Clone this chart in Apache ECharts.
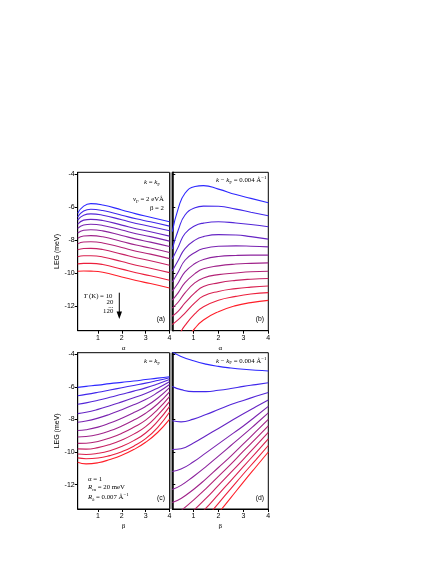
<!DOCTYPE html>
<html><head><meta charset="utf-8">
<script src="https://cdn.jsdelivr.net/npm/echarts@6/dist/echarts.min.js"></script>
<style>html,body{margin:0;padding:0;background:#fff}#c{width:447px;height:578px}</style>
</head><body><div id="c"></div>
<script>
// ---------- data ----------
const temperatures = [10, 20, 30, 40, 50, 60, 70, 80, 90, 100, 110, 120];
const xTicks = [1, 2, 3, 4];
const yTicks = [-4, -6, -8, -10, -12];

// panel (a): LEG vs alpha at k = kF
const alphaA = [0.15, 0.4, 0.7, 1.2, 2.0, 2.6, 3.2, 4.0];
const legA = [
  [-6.38, -5.95, -5.80, -5.88, -6.18, -6.42, -6.62, -6.90],
  [-6.60, -6.25, -6.14, -6.22, -6.50, -6.72, -6.90, -7.16],
  [-6.80, -6.50, -6.42, -6.50, -6.78, -7.00, -7.18, -7.44],
  [-7.05, -6.80, -6.75, -6.82, -7.10, -7.32, -7.50, -7.77],
  [-7.30, -7.09, -7.05, -7.12, -7.40, -7.62, -7.80, -8.07],
  [-7.58, -7.41, -7.38, -7.45, -7.73, -7.95, -8.13, -8.40],
  [-7.90, -7.76, -7.74, -7.81, -8.09, -8.31, -8.49, -8.76],
  [-8.24, -8.12, -8.11, -8.18, -8.46, -8.68, -8.86, -9.13],
  [-8.60, -8.52, -8.51, -8.58, -8.86, -9.08, -9.26, -9.53],
  [-9.02, -8.96, -8.96, -9.03, -9.31, -9.53, -9.71, -9.98],
  [-9.45, -9.42, -9.42, -9.49, -9.77, -9.99, -10.17, -10.44],
  [-9.90, -9.88, -9.89, -9.96, -10.24, -10.46, -10.64, -10.91]
];

// panel (b): LEG vs alpha at k - kF = 0.004
const alphaB = [0.15, 0.39, 0.66, 1.06, 1.4, 2.0, 2.7, 3.3, 4.0];
const legB = [
  [-7.50, -6.09, -5.17, -4.76, -4.71, -4.92, -5.25, -5.48, -5.74],
  [-8.55, -7.40, -6.49, -6.05, -5.95, -5.96, -6.13, -6.32, -6.53],
  [-9.15, -8.42, -7.61, -7.14, -6.98, -6.90, -6.97, -7.06, -7.20],
  [-9.88, -9.23, -8.52, -8.01, -7.80, -7.68, -7.70, -7.80, -7.95],
  [-10.55, -9.94, -9.23, -8.76, -8.52, -8.38, -8.36, -8.38, -8.42],
  [-11.10, -10.59, -9.94, -9.43, -9.18, -9.00, -8.94, -8.92, -8.92],
  [-11.65, -11.19, -10.59, -10.04, -9.75, -9.57, -9.46, -9.42, -9.39],
  [-12.13, -11.76, -11.21, -10.59, -10.30, -10.10, -10.00, -9.93, -9.90],
  [-12.62, -12.31, -11.82, -11.19, -10.82, -10.60, -10.45, -10.38, -10.34],
  [-13.12, -12.83, -12.43, -11.80, -11.40, -11.12, -10.95, -10.86, -10.79],
  [-14.30, -13.80, -13.18, -12.47, -12.05, -11.65, -11.42, -11.28, -11.19],
  [-15.60, -15.00, -14.20, -13.35, -12.85, -12.35, -11.98, -11.80, -11.66]
];

// panel (c): LEG vs beta at k = kF
const betaC = [0.15, 0.5, 1.0, 1.5, 2.0, 2.5, 3.0, 3.5, 4.0];
const legC = [
  [-6.03, -5.97, -5.89, -5.80, -5.72, -5.64, -5.55, -5.46, -5.38],
  [-6.54, -6.46, -6.33, -6.19, -6.05, -5.91, -5.77, -5.61, -5.44],
  [-7.07, -6.98, -6.82, -6.64, -6.45, -6.26, -6.06, -5.82, -5.55],
  [-7.64, -7.56, -7.38, -7.16, -6.92, -6.67, -6.41, -6.08, -5.69],
  [-8.17, -8.10, -7.92, -7.68, -7.40, -7.10, -6.78, -6.35, -5.85],
  [-8.68, -8.63, -8.47, -8.22, -7.92, -7.58, -7.20, -6.70, -6.05],
  [-9.08, -9.05, -8.92, -8.70, -8.40, -8.04, -7.62, -7.05, -6.30],
  [-9.47, -9.46, -9.35, -9.14, -8.85, -8.48, -8.04, -7.40, -6.60],
  [-9.81, -9.82, -9.73, -9.54, -9.26, -8.90, -8.44, -7.75, -6.91],
  [-10.12, -10.15, -10.08, -9.92, -9.66, -9.30, -8.83, -8.12, -7.21],
  [-10.36, -10.41, -10.37, -10.22, -9.98, -9.64, -9.18, -8.50, -7.56],
  [-10.63, -10.73, -10.66, -10.46, -10.20, -9.85, -9.40, -8.80, -8.00]
];

// panel (d): LEG vs beta at k - kF = 0.004
const betaD = [0.15, 0.5, 1.0, 1.5, 2.0, 2.5, 3.0, 3.5, 4.0];
const legD = [
  [-3.85, -4.13, -4.40, -4.60, -4.74, -4.84, -4.92, -4.98, -5.02],
  [-5.97, -6.17, -6.29, -6.29, -6.21, -6.10, -5.97, -5.86, -5.75],
  [-8.08, -8.15, -7.98, -7.70, -7.39, -7.08, -6.83, -6.58, -6.34],
  [-9.85, -9.80, -9.45, -9.00, -8.55, -8.10, -7.65, -7.22, -6.80],
  [-11.20, -11.05, -10.60, -10.05, -9.50, -8.95, -8.40, -7.80, -7.20],
  [-12.30, -12.05, -11.50, -10.90, -10.25, -9.60, -8.95, -8.28, -7.60],
  [-13.10, -12.85, -12.30, -11.65, -10.95, -10.25, -9.50, -8.75, -8.00],
  [-14.00, -13.60, -12.95, -12.25, -11.50, -10.75, -9.95, -9.18, -8.40],
  [-14.80, -14.30, -13.60, -12.85, -12.05, -11.25, -10.45, -9.62, -8.80],
  [-15.50, -15.00, -14.25, -13.45, -12.60, -11.75, -10.90, -10.05, -9.20],
  [-16.20, -15.70, -14.90, -14.05, -13.15, -12.25, -11.35, -10.48, -9.60],
  [-16.90, -16.40, -15.60, -14.70, -13.75, -12.80, -11.85, -10.92, -10.00]
];

// ---------- styling ----------
function curveColor(i, n) {
  const t = i / (n - 1);
  const r = Math.round(45 + 210 * t);
  const g = Math.round(40 - 10 * t);
  const b = Math.round(255 - 215 * t);
  return `rgb(${r},${g},${b})`;
}
const SANS = '"Liberation Sans", Arial, sans-serif';
const SERIF = '"Liberation Serif", "Times New Roman", serif';
const TICKFS = 7;

const grids = [
  { left: 77.7, top: 172.3, width: 91.8, height: 158.4 },
  { left: 172.3, top: 172.3, width: 96, height: 158.4 },
  { left: 77.7, top: 352.7, width: 91.8, height: 156.3 },
  { left: 172.3, top: 352.7, width: 96, height: 156.3 }
].map(g => Object.assign({ show: true, borderColor: '#000', borderWidth: 1, backgroundColor: 'transparent' }, g));

const xNames = ['α', 'α', 'β', 'β'];
const xAxes = grids.map((g, k) => ({
  type: 'value', gridIndex: k, min: 0.15, max: 4,
  axisLine: { show: true, onZero: false, lineStyle: { color: '#000', width: 1 } },
  axisTick: { show: true, customValues: xTicks, length: 3, lineStyle: { color: '#000' } },
  axisLabel: { show: true, customValues: xTicks, color: '#000', fontSize: TICKFS, fontFamily: SANS, margin: 4 },
  splitLine: { show: false },
  name: xNames[k], nameLocation: 'middle', nameGap: 14,
  nameTextStyle: { color: '#000', fontSize: TICKFS, fontFamily: SERIF }
}));
const yAxes = grids.map((g, k) => {
  const left = (k % 2 === 0);
  return {
    type: 'value', gridIndex: k, min: -13.5, max: -3.9,
    axisLine: { show: true, onZero: false, lineStyle: { color: '#000', width: left ? 1 : 1.5 } },
    axisTick: { show: true, inside: !left, customValues: yTicks, length: 3, lineStyle: { color: '#000' } },
    axisLabel: { show: left, customValues: yTicks, color: '#000', fontSize: TICKFS, fontFamily: SANS, margin: 3 },
    splitLine: { show: false },
    name: left ? 'LEG (meV)' : '', nameLocation: 'middle', nameGap: 17,
    nameTextStyle: { color: '#000', fontSize: TICKFS, fontFamily: SANS }
  };
});

const panels = [[alphaA, legA], [alphaB, legB], [betaC, legC], [betaD, legD]];
const series = [];
panels.forEach(([xs, curves], k) => {
  curves.forEach((ys, i) => {
    series.push({
      type: 'line', xAxisIndex: k, yAxisIndex: k, name: 'T=' + temperatures[i] + ' K',
      data: xs.map((x, j) => [x, ys[j]]),
      smooth: 0.5, symbol: 'none', clip: true, silent: true,
      lineStyle: { width: 1.1, color: curveColor(i, curves.length) }
    });
  });
});

// ---------- annotation helper (text with sub/superscripts) ----------
const cv = document.createElement('canvas').getContext('2d');
function fontOf(p) {
  const size = p.sub || p.sup ? 5 : 6.8;
  return (p.i ? 'italic ' : '') + size + 'px ' + (p.sans ? SANS : SERIF);
}
function label(x, y, parts, align) {
  const ws = parts.map(p => { cv.font = fontOf(p); return cv.measureText(p.t).width; });
  const total = ws.reduce((a, b) => a + b, 0);
  let cx = align === 'right' ? x - total : align === 'center' ? x - total / 2 : x;
  const els = [];
  parts.forEach((p, j) => {
    const dy = p.sub ? 2 : p.sup ? -2.5 : 0;
    els.push({ type: 'text', x: cx, y: y + dy, silent: true,
      style: { text: p.t, font: fontOf(p), fill: '#000', align: 'left', verticalAlign: 'middle' } });
    cx += ws[j];
  });
  return els;
}
const N = t => ({ t });
const I = t => ({ t, i: true });
const SUB = t => ({ t, sub: true });
const SUBI = t => ({ t, sub: true, i: true });
const SUP = t => ({ t, sup: true });

let g = [];
// panel a
g = g.concat(label(160, 182.7, [I('k'), N(' = '), I('k'), SUB('F')], 'right'));
g = g.concat(label(164, 199.3, [I('v'), SUB('F'), N(' = 2 eVÅ')], 'right'));
g = g.concat(label(164, 208.3, [N('β = 2')], 'right'));
g = g.concat(label(83.5, 296, [I('T'), N(' (K) = 10')], 'left'));
g = g.concat(label(113.3, 302.7, [N('20')], 'right'));
g = g.concat(label(113.3, 306.5, [N('...')], 'right'));
g = g.concat(label(113.3, 311.7, [N('120')], 'right'));
g = g.concat(label(165, 319.3, [{ t: '(a)', sans: true }], 'right'));
// panel b
g = g.concat(label(266.5, 180.5, [I('k'), N(' − '), I('k'), SUB('F'), N(' = 0.004 Å'), SUP('−1')], 'right'));
g = g.concat(label(264, 319.3, [{ t: '(b)', sans: true }], 'right'));
// panel c
g = g.concat(label(160, 361.7, [I('k'), N(' = '), I('k'), SUB('F')], 'right'));
g = g.concat(label(88, 479, [N('α = 1')], 'left'));
g = g.concat(label(88, 487.3, [I('R'), SUB('m'), N(' = 20 meV')], 'left'));
g = g.concat(label(88, 497.3, [I('R'), SUBI('k'), N(' = 0.007 Å'), SUP('−1')], 'left'));
g = g.concat(label(165, 498.3, [{ t: '(c)', sans: true }], 'right'));
// panel d
g = g.concat(label(266.5, 361, [I('k'), N(' − '), I('k'), SUB('F'), N(' = 0.004 Å'), SUP('−1')], 'right'));
g = g.concat(label(264, 498.3, [{ t: '(d)', sans: true }], 'right'));
// temperature arrow
g.push({ type: 'line', silent: true, shape: { x1: 119.3, y1: 292.7, x2: 119.3, y2: 313 }, style: { stroke: '#000', lineWidth: 1 } });
g.push({ type: 'polygon', silent: true, shape: { points: [[116.6, 311.5], [122, 311.5], [119.3, 319]] }, style: { fill: '#000' } });
// gap between the panel pairs
g.push({ type: 'rect', silent: true, shape: { x: 169.8, y: 172.3, width: 2.2, height: 158.4 }, style: { fill: '#9a9a9a' } });
g.push({ type: 'rect', silent: true, shape: { x: 169.8, y: 352.7, width: 2.2, height: 156.3 }, style: { fill: '#9a9a9a' } });

const chart = echarts.init(document.getElementById('c'), null, { renderer: 'canvas' });
chart.setOption({
  animation: false,
  backgroundColor: '#fff',
  grid: grids,
  xAxis: xAxes,
  yAxis: yAxes,
  series: series,
  graphic: g
});
</script></body></html>
